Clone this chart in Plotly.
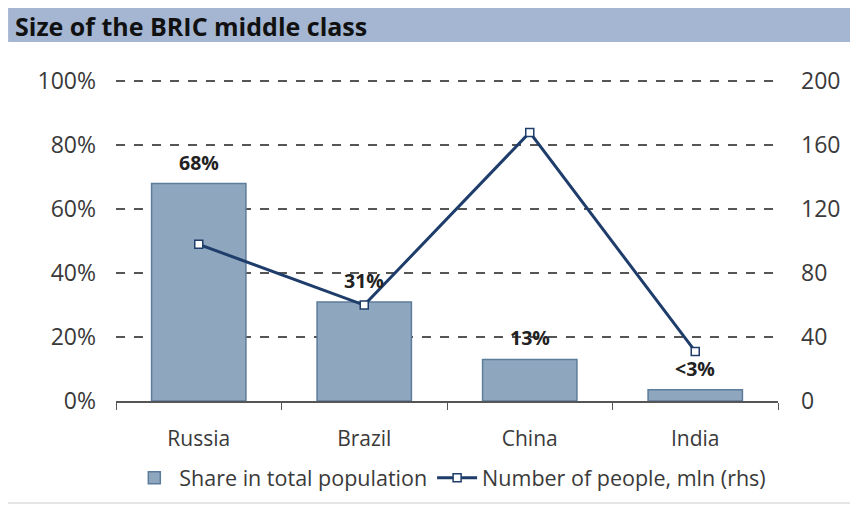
import plotly.graph_objects as go

categories = ["Russia", "Brazil", "China", "India"]
share_pct = [68, 31, 13, 3.5]
share_labels = ["68%", "31%", "13%", "<3%"]
people_mln = [98, 60, 168, 31]
left_ticks = [0, 20, 40, 60, 80, 100]
left_tick_labels = ["0%", "20%", "40%", "60%", "80%", "100%"]
right_ticks = [0, 40, 80, 120, 160, 200]

FONT = "Open Sans"
TXT = "#3a3a3a"
fig = go.Figure()
fig.add_trace(go.Bar(
    x=categories, y=share_pct, name="Share in total population",
    marker=dict(color="#8ea7bf", line=dict(color="#5c7c9c", width=1.5)),
    width=0.57,
))
fig.add_trace(go.Scatter(
    x=categories, y=people_mln, yaxis="y2", name="Number of people, mln (rhs)",
    mode="lines+markers",
    line=dict(color="#1e3d6b", width=3),
    marker=dict(symbol="square", size=8, color="white", line=dict(color="#1e3d6b", width=1.5)),
))
for c, v, t in zip(categories, share_pct, share_labels):
    fig.add_annotation(x=c, y=v, text=t, showarrow=False, yanchor="bottom", yshift=6,
                       font=dict(family=FONT, size=19.5, color="#222222", weight="bold"))

fig.add_shape(type="rect", xref="paper", yref="paper", x0=-0.163, x1=1.125, y0=1.118, y1=1.23,
              fillcolor="#a4b6d1", line=dict(width=0), layer="below")
fig.add_shape(type="line", xref="paper", yref="paper", x0=-0.163, x1=1.125, y0=-0.318, y1=-0.318,
              line=dict(color="#dddddd", width=1.5))
fig.add_annotation(xref="paper", yref="paper", x=-0.154, y=1.167, text="<b>Size of the BRIC middle class</b>",
                   showarrow=False, xanchor="left", yanchor="middle", borderpad=0,
                   font=dict(family=FONT, size=25, color="#111111"))

fig.update_layout(
    width=850, height=498,
    margin=dict(l=108, r=80, t=72, b=105, autoexpand=False),
    paper_bgcolor="white", plot_bgcolor="white",
    font=dict(family=FONT, size=21, color=TXT),
    bargap=0.43,
    showlegend=True,
    legend=dict(orientation="h", x=0.505, xanchor="center", y=-0.175, yanchor="top",
                font=dict(size=21.5, color=TXT), itemwidth=40, tracegroupgap=0),
    xaxis=dict(showline=True, linecolor="#555555", linewidth=1.5, ticks="outside",
               tickson="boundaries", ticklen=7, tickcolor="#555555", automargin=False,
               tickfont=dict(size=21, color=TXT), ticklabelstandoff=18),
    yaxis=dict(range=[0, 100.4], tickvals=left_ticks, ticktext=left_tick_labels,
               showgrid=True, gridcolor="#555555", griddash="dash", gridwidth=1.5,
               zeroline=False, ticks="", automargin=False,
               tickfont=dict(size=23, color=TXT), ticklabelstandoff=19),
    yaxis2=dict(range=[0, 200.8], tickvals=right_ticks, overlaying="y", side="right",
                showgrid=False, zeroline=False, automargin=False,
                tickfont=dict(size=23, color=TXT), ticklabelstandoff=22),
)
fig.write_html("out.html")
